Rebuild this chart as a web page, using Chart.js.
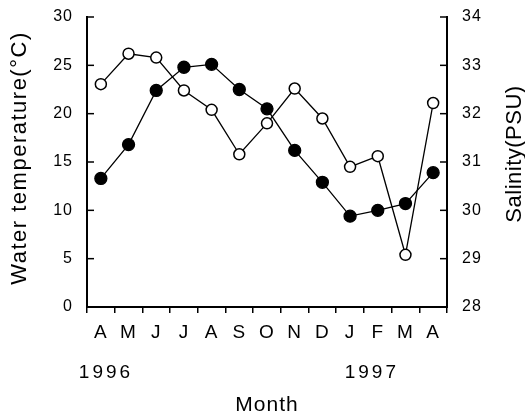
<!DOCTYPE html>
<html>
<head>
<meta charset="utf-8">
<script src="https://cdn.jsdelivr.net/npm/chart.js@4.4.0/dist/chart.umd.min.js"></script>
<style>
  html, body { margin: 0; padding: 0; background: #fff; }
  #wrap { width: 525px; height: 418px; }
</style>
</head>
<body>
<div id="wrap"><canvas id="chart"></canvas></div>
<script>
// monthly samples, April 1996 - April 1997
const months = ['A', 'M', 'J', 'J', 'A', 'S', 'O', 'N', 'D', 'J', 'F', 'M', 'A'];
const temperature = [13.3, 16.8, 22.4, 24.8, 25.1, 22.5, 20.5, 16.2, 12.9, 9.4, 10.0, 10.7, 13.9];
const salinity = [32.61, 33.24, 33.16, 32.48, 32.08, 31.16, 31.80, 32.52, 31.90, 30.90, 31.12, 29.08, 32.22];
const years = ['1996', '1997'];
const yearAt = [0.15, 9.75]; // category position of the year captions

const FONT = '"Liberation Sans", Arial, sans-serif';
const INK = '#000';

// inward ticks on both y axes, year captions and the axis titles
const extras = {
  id: 'extras',
  beforeDraw(chart) {
    chart.ctx.letterSpacing = '1px';
  },
  afterDraw(chart) {
    const { ctx, chartArea, scales } = chart;
    ctx.save();
    ctx.strokeStyle = INK;
    ctx.lineWidth = 1.5;
    scales.y.ticks.forEach(t => {
      const py = scales.y.getPixelForValue(t.value);
      ctx.beginPath();
      ctx.moveTo(chartArea.left, py);
      ctx.lineTo(chartArea.left + 7, py);
      ctx.stroke();
    });
    scales.y1.ticks.forEach(t => {
      const py = scales.y1.getPixelForValue(t.value);
      ctx.beginPath();
      ctx.moveTo(chartArea.right, py);
      ctx.lineTo(chartArea.right - 7, py);
      ctx.stroke();
    });

    ctx.fillStyle = INK;
    ctx.textAlign = 'center';
    ctx.textBaseline = 'middle';
    ctx.font = '19px ' + FONT;
    ctx.letterSpacing = '3px';
    years.forEach((y, i) => {
      ctx.fillText(y, scales.x.getPixelForValue(yearAt[i]) + 1, 373);
    });

    ctx.font = '22px ' + FONT;
    ctx.letterSpacing = '1.5px';
    ctx.save();
    ctx.translate(20, 158);
    ctx.rotate(-Math.PI / 2);
    ctx.fillText('Water temperature(°C)', 0, 0);
    ctx.restore();

    ctx.letterSpacing = '0.5px';
    ctx.save();
    ctx.translate(515, 154);
    ctx.rotate(-Math.PI / 2);
    ctx.fillText('Salinity(PSU)', 0, 0);
    ctx.restore();

    ctx.restore();
  }
};

// keep the plot box where the reference has it
function noPad(s) {
  s.paddingTop = 0;
  s.paddingBottom = 0;
  s.paddingLeft = 0;
  s.paddingRight = 0;
}

new Chart(document.getElementById('chart'), {
  type: 'line',
  data: {
    labels: months,
    datasets: [
      {
        label: 'Water temperature',
        data: temperature,
        yAxisID: 'y',
        borderColor: INK,
        borderWidth: 1.3,
        pointRadius: 6,
        pointBorderWidth: 1.3,
        pointBackgroundColor: INK,
        pointBorderColor: INK,
        tension: 0
      },
      {
        label: 'Salinity',
        data: salinity,
        yAxisID: 'y1',
        borderColor: INK,
        borderWidth: 1.3,
        pointRadius: 5.5,
        pointBorderWidth: 1.5,
        pointBackgroundColor: '#fff',
        pointBorderColor: INK,
        tension: 0
      }
    ]
  },
  options: {
    responsive: true,
    maintainAspectRatio: false,
    animation: false,
    layout: { padding: { top: 17, left: 0, right: 0, bottom: 0 } },
    scales: {
      x: {
        offset: true,
        afterFit(s) { s.height = 111; noPad(s); },
        grid: {
          display: true,
          offset: true,
          drawOnChartArea: false,
          drawTicks: true,
          tickLength: 6,
          color: INK,
          lineWidth: 1.5
        },
        border: { display: true, color: INK, width: 2 },
        ticks: {
          color: INK,
          padding: 8,
          maxRotation: 0,
          autoSkip: false,
          font: { family: FONT, size: 19 }
        },
        title: {
          display: true,
          text: 'Month',
          color: INK,
          padding: { top: 40, bottom: 0 },
          font: { family: FONT, size: 21 }
        }
      },
      y: {
        position: 'left',
        min: 0,
        max: 30,
        afterFit(s) { s.width = 87; noPad(s); },
        grid: { display: false, drawTicks: false },
        border: { display: true, color: INK, width: 2 },
        ticks: {
          stepSize: 5,
          color: INK,
          padding: 14,
          font: { family: FONT, size: 16 }
        }
      },
      y1: {
        position: 'right',
        min: 28,
        max: 34,
        afterFit(s) { s.width = 78; noPad(s); },
        grid: { display: false, drawTicks: false },
        border: { display: true, color: INK, width: 2 },
        ticks: {
          stepSize: 1,
          color: INK,
          padding: 15,
          font: { family: FONT, size: 16 }
        }
      }
    },
    plugins: {
      legend: { display: false },
      tooltip: { enabled: false }
    }
  },
  plugins: [extras]
});
</script>
</body>
</html>
